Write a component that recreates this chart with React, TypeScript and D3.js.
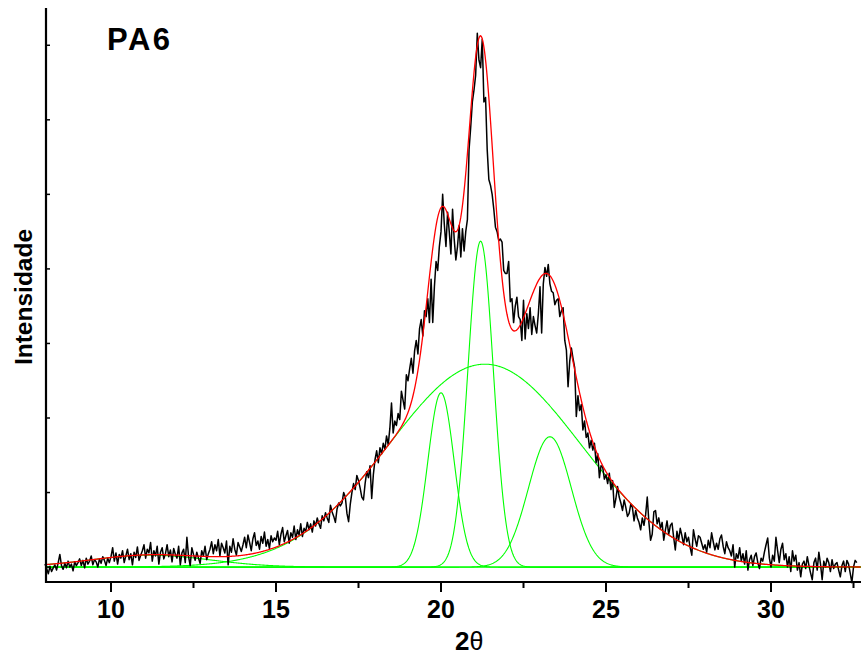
import React from 'react';
import * as d3 from 'd3';

const W = 861;
const H = 657;

// Measured diffractogram (2θ from 8.00 in 0.05° steps)
const thetaStart = 8;
const thetaStep = 0.05;
const intensity = [
  // 8
  20,-10,-45,5,-30,-5,15,-20,30,85,10,-15,25,-5,40,0,20,-25,35,10,
  // 9
  30,55,10,45,-5,60,20,40,75,15,50,35,0,55,25,70,45,10,60,30,
  // 10
  70,130,40,95,20,85,60,110,30,75,120,50,90,15,100,65,135,45,80,110,
  // 11
  150,60,120,95,165,40,110,75,140,20,100,130,55,90,150,70,115,35,125,85,
  // 12
  60,140,15,95,120,30,200,70,10,130,85,45,100,60,25,110,75,140,50,90,
  // 13
  120,170,90,150,110,185,75,160,130,95,175,15,140,100,190,120,80,165,135,105,
  // 14
  150,200,130,215,165,110,190,230,145,175,120,205,160,235,140,185,125,210,170,195,
  // 15
  180,240,150,220,265,170,210,245,160,230,200,275,185,250,215,290,205,260,240,300,
  // 16
  250,290,235,310,275,330,290,260,345,310,365,330,300,415,370,340,300,390,430,410,
  // 17
  430,500,470,360,305,420,500,560,520,615,580,530,470,450,560,640,600,680,460,620,
  // 18
  720,780,700,800,760,830,790,880,820,930,1100,900,980,950,1030,990,1180,1120,1060,1290,
  // 19
  1250,1330,1400,1300,1450,1520,1430,1600,1660,1550,1720,1680,1800,1640,1930,1640,1880,2050,1990,2150,
  // 20
  2250,2500,2300,2150,2380,2250,2100,2400,2200,2060,2150,2290,2080,2270,2120,2250,2330,2800,2950,3120,
  // 21
  3200,3300,3580,3400,3350,3540,3120,3150,2800,2600,2560,2500,2400,2280,2250,2190,2200,2180,1990,1970,
  // 22
  1970,2050,1780,1800,1640,1750,1810,1680,1660,1520,1790,1530,1700,1600,1740,1560,1680,1620,1570,1700,
  // 23
  1880,1570,1900,2010,1950,2030,1900,1850,1840,1760,1790,1800,1680,1720,1740,1520,1455,1210,1380,1470,
  // 24
  1400,1340,1010,1150,1050,1090,920,980,870,900,800,850,785,830,700,760,600,680,670,590,
  // 25
  620,560,630,520,580,400,460,540,470,430,380,450,400,340,360,420,400,310,380,330,
  // 26
  300,250,330,280,350,470,300,180,220,370,380,290,330,260,300,180,250,310,220,280,
  // 27
  295,200,115,240,180,260,210,150,230,170,200,130,80,250,190,140,210,200,160,120,
  // 28
  150,100,180,130,230,170,115,160,120,190,215,140,90,170,130,110,75,150,0,90,
  // 29
  60,130,40,90,20,110,-20,50,80,10,70,95,30,-10,60,40,100,150,195,60,
  // 30
  0,80,40,200,110,30,120,160,50,90,0,70,-30,110,40,80,-20,30,-65,20,
  // 31
  40,-10,70,10,-40,-85,30,60,-20,100,20,-85,40,0,60,30,-30,50,-10,20,
  // 32
  30,-20,-65,10,40,-30,45,20,-40,-105,0,45,30,
];

// Fitted Gaussian components (center 2θ, height, sigma)
const peakCenters = [11.2, 21.33, 20.0, 21.2, 23.3];
const peakHeights = [80, 1361, 1169, 2186, 874];
const peakSigmas = [1.8, 2.9, 0.4, 0.385, 0.65];

const xDomain = [8, 32.727];
const yDomain = [-100, 3750];
const xMajorTicks = [10, 15, 20, 25, 30];
const xMinorTicks = [12.5, 17.5, 22.5, 27.5, 32.5];
const yTicks = [0, 500, 1000, 1500, 2000, 2500, 3000, 3500];

const FONT = "'Liberation Sans', Arial, Helvetica, sans-serif";

export default function App() {
  const x = d3.scaleLinear().domain(xDomain).range([45, 861]);
  const y = d3.scaleLinear().domain(yDomain).range([582, 8]);

  const dataPts: [number, number][] = intensity.map((v, i) => [thetaStart + i * thetaStep, v]);

  const grid = d3.range(xDomain[0], xDomain[1] + 0.001, 0.02);
  const gauss = (t: number, k: number) =>
    peakHeights[k] * Math.exp(-((t - peakCenters[k]) ** 2) / (2 * peakSigmas[k] ** 2));

  const line = d3
    .line<[number, number]>()
    .x((d) => x(d[0]))
    .y((d) => y(d[1]));

  const components = peakCenters.map((_, k) => grid.map((t) => [t, gauss(t, k)] as [number, number]));
  const fit = grid.map((t) => [t, peakCenters.reduce((s, _, k) => s + gauss(t, k), 0)] as [number, number]);

  const axisY = y(yDomain[0]);
  const axisX = x(xDomain[0]) + 1;

  return (
    <svg
      width={W}
      height={H}
      style={{ position: 'absolute', left: 0, top: 0, background: '#fff' }}
      xmlns="http://www.w3.org/2000/svg"
    >
      <rect x={0} y={0} width={W} height={H} fill="#fff" />
      {components.map((c, k) => (
        <path key={k} d={line(c) || ''} fill="none" stroke="#00ff00" strokeWidth={1.1} />
      ))}
      <path d={line(dataPts) || ''} fill="none" stroke="#000" strokeWidth={1.5} strokeLinejoin="round" />
      <path d={line(fit) || ''} fill="none" stroke="#ff0000" strokeWidth={1.3} />

      {/* axes */}
      <line x1={axisX} x2={axisX} y1={y(yDomain[1])} y2={axisY + 1} stroke="#000" strokeWidth={2.2} />
      <line x1={axisX - 1} x2={861} y1={axisY} y2={axisY} stroke="#000" strokeWidth={2.2} />
      {yTicks.map((t) => (
        <line key={t} x1={axisX} x2={axisX + 4} y1={y(t)} y2={y(t)} stroke="#000" strokeWidth={1.5} />
      ))}
      {xMajorTicks.map((t) => (
        <g key={t}>
          <line x1={x(t)} x2={x(t)} y1={axisY} y2={axisY + 10} stroke="#000" strokeWidth={2} />
          <text
            x={x(t)}
            y={618}
            textAnchor="middle"
            fontFamily={FONT}
            fontWeight="bold"
            fontSize={25}
            fill="#000"
          >
            {t}
          </text>
        </g>
      ))}
      {xMinorTicks.map((t) => (
        <line key={t} x1={x(t)} x2={x(t)} y1={axisY} y2={axisY + 6} stroke="#000" strokeWidth={2} />
      ))}

      <text x={455} y={650} fontFamily={FONT} fontWeight="bold" fontSize={26} fill="#000">
        2<tspan fontFamily={FONT} fontWeight="normal" fontSize={25}>θ</tspan>
      </text>
      <text
        transform="translate(32,297) rotate(-90)"
        textAnchor="middle"
        fontFamily={FONT}
        fontWeight="bold"
        fontSize={24.5}
        fill="#000"
      >
        Intensidade
      </text>
      <text x={107} y={50} fontFamily={FONT} fontWeight="bold" fontSize={31} letterSpacing={2.5} fill="#000">
        PA6
      </text>
    </svg>
  );
}
